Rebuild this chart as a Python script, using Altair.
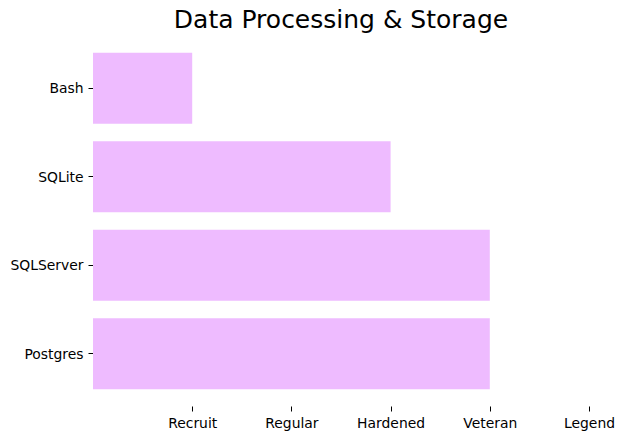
import altair as alt
import pandas as pd

tools = ["Bash", "SQLite", "SQLServer", "Postgres"]
levels = [1, 3, 4, 4]
level_names = ["Recruit", "Regular", "Hardened", "Veteran", "Legend"]
level_ticks = [1, 2, 3, 4, 5]

df = pd.DataFrame({"tool": tools, "level": levels})

label_map = "{" + ",".join(f"'{v}':'{n}'" for v, n in zip(level_ticks, level_names)) + "}"

chart = alt.Chart(df).mark_bar(color="#EEBBFF").encode(
    x=alt.X(
        "level:Q",
        scale=alt.Scale(domain=[0, 5], nice=False, zero=True),
        axis=alt.Axis(
            title=None,
            values=level_ticks,
            labelExpr=f"{label_map}[datum.value]",
            labelFlush=False,
            labelOverlap=False,
            domain=False,
            grid=False,
            tickSize=5,
            tickColor="black",
            labelColor="black",
            labelFont="DejaVu Sans",
            labelFontSize=13.9,
            labelPadding=5,
        ),
    ),
    y=alt.Y(
        "tool:N",
        sort=tools,
        scale=alt.Scale(paddingInner=0.2, paddingOuter=0.19),
        axis=alt.Axis(
            title=None,
            domain=False,
            grid=False,
            tickSize=5,
            tickColor="black",
            labelColor="black",
            labelFont="DejaVu Sans",
            labelFontSize=13.9,
            labelPadding=5,
            labelOffset=1,
        ),
    ),
).properties(
    width=496,
    height=370,
    title=alt.TitleParams(
        "Data Processing & Storage",
        font="DejaVu Sans",
        fontSize=25,
        fontWeight="normal",
        color="black",
        anchor="middle",
        baseline="alphabetic",
        offset=-17,
    ),
    autosize=alt.AutoSizeParams(type="none"),
    padding={"left": 93, "top": 36, "right": 35, "bottom": 34},
).configure_view(stroke=None)

chart.save("out.html", embed_options={"renderer": "svg", "actions": False})
